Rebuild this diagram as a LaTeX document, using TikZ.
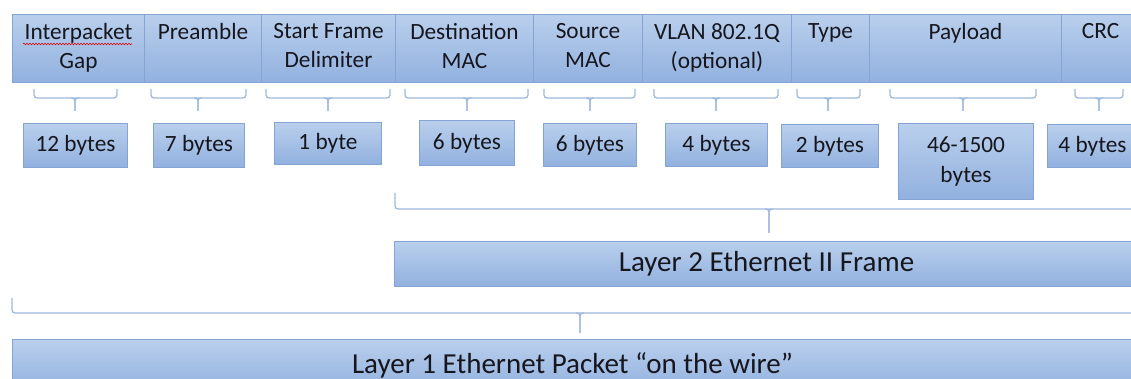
\documentclass[tikz,border=0pt]{standalone}
\usepackage{fontspec}
\setmainfont{Carlito}
\usetikzlibrary{decorations.pathmorphing}
\definecolor{boxtop}{HTML}{B9CFEC}
\definecolor{boxbot}{HTML}{92B1DF}
\definecolor{boxline}{HTML}{84A5D3}
\definecolor{brcol}{HTML}{9FB9DC}
\definecolor{txt}{HTML}{16161E}
\tikzset{
  cell/.style={draw=boxline, line width=1pt, top color=boxtop, bottom color=boxbot,
    anchor=north west, inner sep=0pt},
  lbl/.style={font=\fontsize{23.3}{29.5}\selectfont, text=txt, align=center, inner sep=0pt, anchor=north},
  bytebox/.style={cell, font=\fontsize{23.3}{29.5}\selectfont, text=txt, align=center},
  layerbox/.style={cell, font=\fontsize{29}{34}\selectfont, text=txt, align=center},
  brc/.style={draw=brcol, line width=1.3pt, rounded corners=3pt},
}
% name, x1, x2, ytop, ybar, xmid, ybot
\newcommand\mybrace[7]{%
  \coordinate (#1-l) at (#2,#4);
  \coordinate (#1-r) at (#3,#4);
  \coordinate (#1-m) at (#6,#5);
  \coordinate (#1-t) at (#6,#7);
  \draw[brc] (#1-l) -- (#2,#5) -- (#3,#5) -- (#1-r);
  \draw[brc] ([xshift=-4pt]#1-m) -- (#1-m) -- (#1-t);
  \draw[brc] ([xshift=4pt]#1-m) -- (#1-m) -- (#1-t);
}
\begin{document}
\begin{tikzpicture}[x=1pt,y=-1pt]
\useasboundingbox (0,0) rectangle (1131,379);
\clip (0,0) rectangle (1131,379);
% top row cells
\node[cell, minimum width=132pt, minimum height=68pt] (c1) at (12,14) {};
\node[cell, minimum width=117pt, minimum height=68pt] (c2) at (144,14) {};
\node[cell, minimum width=134pt, minimum height=68pt] (c3) at (261,14) {};
\node[cell, minimum width=138pt, minimum height=68pt] (c4) at (395,14) {};
\node[cell, minimum width=109pt, minimum height=68pt] (c5) at (533,14) {};
\node[cell, minimum width=149pt, minimum height=68pt] (c6) at (642,14) {};
\node[cell, minimum width=78pt, minimum height=68pt] (c7) at (791,14) {};
\node[cell, minimum width=192pt, minimum height=68pt] (c8) at (869,14) {};
\node[cell, minimum width=78pt, minimum height=68pt] (c9) at (1061,14) {};
\node[lbl] (t1) at ([yshift=-9pt]c1.north) {Interpacket\\Gap};
\node[lbl] (t2) at ([yshift=-9pt]c2.north) {Preamble};
\node[lbl] (t3) at ([yshift=-9pt]c3.north) {Start Frame\\Delimiter};
\node[lbl] (t4) at ([yshift=-9pt]c4.north) {Destination\\MAC};
\node[lbl] (t5) at ([yshift=-9pt]c5.north) {Source\\MAC};
\node[lbl] (t6) at ([yshift=-9pt]c6.north) {VLAN 802.1Q\\(optional)};
\node[lbl] (t7) at ([yshift=-9pt]c7.north) {Type};
\node[lbl] (t8) at ([yshift=-9pt]c8.north) {Payload};
\node[lbl] (t9) at ([yshift=-9pt]c9.north) {CRC};
% spell-check squiggle
\draw[red!85!black, line width=0.6pt, decorate, decoration={snake, segment length=3pt, amplitude=0.7pt}] (23,44) -- (132,44);
% braces under fields
\mybrace{b1}{34}{117}{89}{98}{75}{111}
\mybrace{b2}{151}{246}{89}{98}{198}{111}
\mybrace{b3}{266}{390}{89}{98}{328}{111}
\mybrace{b4}{405}{528}{89}{98}{467}{111}
\mybrace{b5}{544}{635}{89}{98}{590}{111}
\mybrace{b6}{654}{778}{89}{98}{716}{111}
\mybrace{b7}{797}{860}{89}{98}{828}{111}
\mybrace{b8}{890}{1036}{89}{98}{963}{111}
\mybrace{b9}{1075}{1123}{89}{98}{1099}{111}
% byte boxes
\node[bytebox, minimum width=104pt, minimum height=44pt] (s1) at (23,123) {12 bytes};
\node[bytebox, minimum width=91pt, minimum height=44pt] (s2) at (153,123) {7 bytes};
\node[bytebox, minimum width=107pt, minimum height=42pt] (s3) at (274,122) {1 byte};
\node[bytebox, minimum width=95pt, minimum height=45pt] (s4) at (419,120) {6 bytes};
\node[bytebox, minimum width=93pt, minimum height=43pt] (s5) at (543,123) {6 bytes};
\node[bytebox, minimum width=102pt, minimum height=43pt] (s6) at (665,123) {4 bytes};
\node[bytebox, minimum width=97pt, minimum height=43pt] (s7) at (781,124) {2 bytes};
\node[bytebox, minimum width=135pt, minimum height=76pt] (s8) at (898,123) {46-1500\\bytes};
\node[bytebox, minimum width=90pt, minimum height=43pt] (s9) at (1047,124) {4 bytes};
% layer 2
\mybrace{L2}{395}{1150}{193}{209}{769}{233}
\node[layerbox, minimum width=744pt, minimum height=45pt] (l2) at (394,241) {Layer 2 Ethernet II Frame};
% layer 1
\mybrace{L1}{12}{1150}{298}{313}{580}{333}
\node[layerbox, minimum width=1120pt, minimum height=52pt] (l1) at (12,339) {Layer 1 Ethernet Packet “on the wire”};
\end{tikzpicture}
\end{document}
